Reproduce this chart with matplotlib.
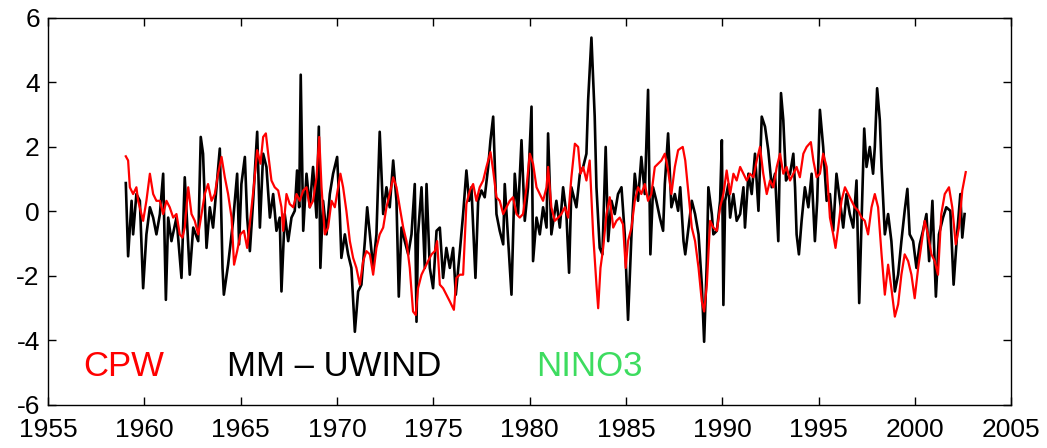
import matplotlib
matplotlib.use('Agg')
import matplotlib.pyplot as plt
import numpy as np

plt.rcParams['font.family'] = ['Liberation Sans', 'DejaVu Sans']
plt.rcParams['axes.unicode_minus'] = False

# MM - UWIND (black)
uwind_years = [
    1959.03, 1959.15, 1959.33, 1959.41, 1959.58, 1959.76, 1959.93, 1960.10, 1960.28, 1960.45,
    1960.62, 1960.80, 1960.97, 1961.11, 1961.23, 1961.40, 1961.66, 1961.92, 1962.09, 1962.27,
    1962.35, 1962.53, 1962.79, 1962.92, 1963.04, 1963.22, 1963.39, 1963.56, 1963.74, 1963.91,
    1964.05, 1964.12, 1964.34, 1964.60, 1964.81, 1964.91, 1965.03, 1965.21, 1965.33, 1965.47,
    1965.64, 1965.85, 1965.99, 1966.16, 1966.33, 1966.51, 1966.68, 1966.85, 1967.02, 1967.11,
    1967.28, 1967.46, 1967.63, 1967.80, 1967.92, 1968.03, 1968.11, 1968.24, 1968.41, 1968.58,
    1968.75, 1968.93, 1969.05, 1969.13, 1969.27, 1969.45, 1969.62, 1969.79, 1970.00, 1970.14,
    1970.22, 1970.40, 1970.57, 1970.74, 1970.92, 1971.09, 1971.26, 1971.44, 1971.56, 1971.70,
    1971.87, 1972.04, 1972.21, 1972.39, 1972.56, 1972.73, 1972.91, 1973.08, 1973.20, 1973.34,
    1973.51, 1973.69, 1973.86, 1974.03, 1974.12, 1974.20, 1974.38, 1974.55, 1974.64, 1974.81,
    1974.98, 1975.16, 1975.33, 1975.50, 1975.67, 1975.85, 1976.02, 1976.16, 1976.37, 1976.54,
    1976.71, 1976.85, 1976.97, 1977.18, 1977.32, 1977.49, 1977.66, 1977.84, 1977.96, 1978.10,
    1978.27, 1978.44, 1978.62, 1978.70, 1978.88, 1979.05, 1979.22, 1979.39, 1979.57, 1979.74,
    1979.91, 1980.09, 1980.17, 1980.35, 1980.52, 1980.69, 1980.87, 1980.95, 1981.12, 1981.38,
    1981.56, 1981.73, 1981.90, 1982.04, 1982.16, 1982.42, 1982.60, 1982.77, 1982.94, 1983.03,
    1983.20, 1983.37, 1983.46, 1983.63, 1983.77, 1983.94, 1984.07, 1984.24, 1984.41, 1984.58,
    1984.76, 1984.93, 1985.10, 1985.28, 1985.45, 1985.62, 1985.79, 1985.97, 1986.14, 1986.26,
    1986.40, 1986.57, 1986.75, 1986.92, 1987.01, 1987.18, 1987.35, 1987.53, 1987.70, 1987.81,
    1987.98, 1988.07, 1988.24, 1988.41, 1988.58, 1988.76, 1988.93, 1989.05, 1989.19, 1989.27,
    1989.45, 1989.53, 1989.71, 1989.88, 1989.97, 1990.05, 1990.14, 1990.31, 1990.40, 1990.57,
    1990.74, 1990.92, 1991.09, 1991.17, 1991.35, 1991.52, 1991.69, 1991.87, 1992.04, 1992.21,
    1992.38, 1992.56, 1992.73, 1992.90, 1993.04, 1993.16, 1993.30, 1993.51, 1993.68, 1993.77,
    1993.85, 1993.97, 1994.11, 1994.28, 1994.46, 1994.63, 1994.80, 1994.92, 1995.06, 1995.23,
    1995.41, 1995.58, 1995.75, 1995.92, 1996.10, 1996.27, 1996.44, 1996.61, 1996.79, 1996.96,
    1997.10, 1997.27, 1997.36, 1997.48, 1997.65, 1997.82, 1997.91, 1998.03, 1998.17, 1998.26,
    1998.43, 1998.60, 1998.77, 1998.95, 1999.12, 1999.29, 1999.46, 1999.60, 1999.72, 1999.90,
    2000.07, 2000.24, 2000.41, 2000.59, 2000.73, 2000.90, 2001.08, 2001.24, 2001.45, 2001.62,
    2001.83, 2002.00, 2002.18, 2002.35, 2002.45, 2002.57,
]
uwind = [
    0.88, -1.39, 0.33, -0.71, 0.54, 0.33, -2.38, -0.71, 0.13, -0.19,
    -0.71, -0.08, 1.17, -2.74, -0.19, -0.92, -0.19, -2.06, 1.06, -1.02,
    -1.96, -0.50, -0.92, 2.31, 1.79, -1.13, 0.13, -0.50, 0.75, 1.95,
    -1.75, -2.58, -1.65, -0.29, 1.17, -1.02, 0.85, 1.69, -0.19, -1.23,
    0.33, 2.47, -0.50, 1.79, 1.38, -0.19, 0.54, -0.60, -0.19, -2.48,
    -0.08, -0.92, -0.19, 0.02, 1.27, 0.13, 4.24, -0.60, 1.17, 0.13,
    1.38, -0.19, 2.63, -1.75, 0.33, -0.71, 0.54, 1.17, 1.69, -0.08,
    -1.44, -0.71, -1.33, -1.75, -3.73, -2.48, -2.27, -0.92, 0.13, -0.71,
    -1.75, -0.71, 2.47, -0.08, 0.75, 0.13, 1.58, 0.33, -2.64, -0.50,
    -0.92, -1.33, -0.71, 0.85, -3.42, -0.71, 0.75, -1.75, 0.85, -1.75,
    -2.38, -0.60, -0.50, -2.06, -1.13, -1.75, -1.13, -2.58, -1.23, -0.08,
    1.27, 0.33, 0.75, -2.06, 0.33, 0.65, 0.44, 1.38, 2.21, 2.94,
    -0.08, -0.60, -1.02, 0.85, -0.92, -2.58, 1.17, -0.08, 2.21, -0.29,
    0.75, 3.25, -1.54, -0.19, -0.71, 0.13, -0.50, 2.42, -0.71, 0.33,
    -0.50, 0.75, -0.08, -1.90, 0.75, 0.13, 1.17, 1.38, 1.79, 3.46,
    5.39, 2.94, 0.75, -1.13, -1.33, 2.00, -0.92, 0.33, -0.08, 0.54,
    0.75, -0.71, -3.36, -0.71, 1.17, 0.33, 1.69, 0.54, 3.77, -1.33,
    0.75, 0.33, -0.19, -0.60, 0.85, 2.42, 0.13, 0.54, 0.02, 0.75,
    -0.92, -1.33, -0.50, 0.33, -0.08, -0.71, -2.27, -4.04, -1.54, 0.75,
    -0.08, -0.71, -0.60, 0.33, 2.21, -2.90, 0.33, 0.85, -0.19, 0.54,
    -0.29, -0.08, 0.75, -0.50, 1.17, 0.54, 1.79, 0.02, 2.94, 2.63,
    1.90, 0.75, 1.17, -0.92, 3.67, 2.83, 0.96, 1.17, 1.79, 0.75,
    -0.71, -1.33, -0.29, 0.75, 0.13, 1.17, -0.92, 0.33, 3.15, 2.00,
    0.33, 0.54, -0.60, 1.17, 0.33, -0.50, 0.54, -0.08, -0.50, 0.96,
    -2.84, 0.75, 2.57, 1.38, 2.00, 1.17, 2.00, 3.82, 2.83, 1.38,
    -0.71, -0.08, -0.92, -2.48, -1.96, -0.92, 0.02, 0.70, -0.71, -0.92,
    -1.75, -1.02, -0.60, -0.08, -1.54, 0.33, -2.64, -0.71, -0.19, 0.13,
    0.02, -2.27, -0.71, 0.54, -0.81, -0.08,
]

# CPW (red)
cpw_years = [
    1959.03, 1959.15, 1959.24, 1959.41, 1959.58, 1959.67, 1959.84, 1959.93, 1960.10, 1960.28,
    1960.45, 1960.62, 1960.80, 1960.97, 1961.14, 1961.31, 1961.49, 1961.66, 1961.83, 1961.97,
    1962.09, 1962.27, 1962.44, 1962.61, 1962.79, 1962.96, 1963.13, 1963.30, 1963.48, 1963.65,
    1963.82, 1964.00, 1964.17, 1964.34, 1964.52, 1964.65, 1964.81, 1964.98, 1965.16, 1965.33,
    1965.50, 1965.67, 1965.85, 1966.02, 1966.16, 1966.30, 1966.42, 1966.59, 1966.76, 1966.94,
    1967.11, 1967.20, 1967.37, 1967.54, 1967.72, 1967.89, 1968.06, 1968.24, 1968.41, 1968.58,
    1968.75, 1968.93, 1969.07, 1969.19, 1969.36, 1969.53, 1969.71, 1969.88, 1970.05, 1970.17,
    1970.31, 1970.48, 1970.66, 1970.83, 1971.00, 1971.18, 1971.35, 1971.52, 1971.70, 1971.87,
    1972.04, 1972.21, 1972.39, 1972.56, 1972.73, 1972.91, 1973.08, 1973.25, 1973.43, 1973.60,
    1973.77, 1973.94, 1974.08, 1974.20, 1974.38, 1974.55, 1974.72, 1974.90, 1975.07, 1975.19,
    1975.33, 1975.50, 1975.67, 1975.85, 1976.06, 1976.19, 1976.37, 1976.54, 1976.71, 1976.89,
    1977.06, 1977.23, 1977.40, 1977.58, 1977.75, 1977.96, 1978.10, 1978.27, 1978.44, 1978.62,
    1978.79, 1978.96, 1979.13, 1979.31, 1979.48, 1979.65, 1979.83, 1980.00, 1980.17, 1980.35,
    1980.52, 1980.69, 1980.87, 1980.95, 1981.12, 1981.30, 1981.47, 1981.64, 1981.82, 1981.99,
    1982.16, 1982.34, 1982.51, 1982.63, 1982.77, 1982.94, 1983.11, 1983.29, 1983.46, 1983.55,
    1983.67, 1983.81, 1983.98, 1984.15, 1984.33, 1984.50, 1984.67, 1984.84, 1984.98, 1985.10,
    1985.28, 1985.45, 1985.62, 1985.79, 1985.97, 1986.14, 1986.31, 1986.49, 1986.66, 1986.83,
    1987.01, 1987.18, 1987.35, 1987.53, 1987.70, 1987.81, 1987.94, 1988.07, 1988.24, 1988.41,
    1988.58, 1988.76, 1988.93, 1989.05, 1989.19, 1989.36, 1989.53, 1989.71, 1989.88, 1990.05,
    1990.22, 1990.40, 1990.57, 1990.74, 1990.92, 1991.09, 1991.26, 1991.43, 1991.61, 1991.78,
    1991.95, 1992.12, 1992.30, 1992.47, 1992.64, 1992.82, 1992.99, 1993.16, 1993.33, 1993.51,
    1993.68, 1993.85, 1994.02, 1994.20, 1994.37, 1994.59, 1994.72, 1994.89, 1995.06, 1995.23,
    1995.41, 1995.58, 1995.75, 1995.87, 1996.01, 1996.18, 1996.36, 1996.53, 1996.70, 1996.87,
    1997.05, 1997.22, 1997.39, 1997.56, 1997.74, 1997.91, 1998.08, 1998.26, 1998.43, 1998.60,
    1998.77, 1998.95, 1999.12, 1999.29, 1999.46, 1999.64, 1999.81, 1999.98, 2000.16, 2000.33,
    2000.50, 2000.67, 2000.85, 2001.02, 2001.19, 2001.36, 2001.54, 2001.76, 2001.93, 2002.11,
    2002.28, 2002.45, 2002.63,
]
cpw = [
    1.71, 1.58, 0.75, 0.54, 0.75, 0.33, -0.08, -0.29, 0.33, 1.17,
    0.54, 0.33, 0.33, -0.08, 0.33, 0.13, -0.19, -0.08, -0.71, -0.81,
    -0.50, 0.75, -0.08, -0.29, -0.71, -0.08, 0.54, 0.85, 0.33, 0.54,
    1.17, 1.69, 1.06, 0.54, -0.19, -1.65, -1.23, -0.71, -0.60, -1.13,
    -0.19, 0.75, 1.90, 1.48, 2.31, 2.42, 1.79, 0.96, 0.75, 0.65,
    0.13, -0.60, 0.54, 0.23, 0.13, 0.54, 0.33, 0.65, 0.75, 0.13,
    0.33, 1.06, 2.31, 0.75, -0.71, -0.50, 0.33, 0.13, 0.75, 1.17,
    0.75, 0.02, -0.92, -1.44, -1.75, -2.27, -1.54, -1.23, -1.33, -1.96,
    -1.13, -0.71, -0.50, 0.13, 0.54, 1.06, 0.75, 0.13, -0.50, -0.92,
    -1.75, -3.10, -3.21, -2.38, -1.96, -1.75, -1.54, -1.33, -1.23, -0.92,
    -2.27, -2.38, -2.58, -2.79, -3.05, -2.06, -1.96, -1.96, 0.23, 0.65,
    0.85, 0.33, 0.75, 0.96, 1.38, 1.84, 1.27, 0.44, 0.33, -0.08,
    0.13, 0.33, 0.44, -0.08, -0.19, -0.08, 0.75, 1.79, 1.48, 0.75,
    0.54, 0.33, 0.75, 1.38, 0.13, -0.29, -0.19, -0.08, 0.13, -0.19,
    1.06, 2.10, 2.00, 1.17, 1.38, 0.96, 1.58, -0.71, -2.27, -3.00,
    -1.75, -1.13, -0.08, 0.44, -0.50, -0.29, -0.19, -0.40, -1.75, -0.92,
    -0.50, 0.33, 0.75, 0.54, 0.85, 0.33, 0.54, 1.38, 1.48, 1.58,
    1.79, 1.27, 0.54, 1.38, 1.90, 1.95, 2.00, 1.58, 0.54, -0.50,
    -0.92, -1.75, -2.79, -3.10, -2.27, -0.29, -0.50, -0.60, 0.13, 0.54,
    1.27, 0.54, 1.17, 0.96, 1.38, 1.17, 0.96, 1.17, 1.06, 1.58,
    2.00, 1.17, 0.54, 0.96, 0.75, 1.38, 1.79, 1.17, 1.38, 0.96,
    1.17, 1.38, 1.06, 1.79, 2.00, 2.15, 1.58, 1.06, 1.17, 1.79,
    1.38, -0.19, -0.71, -1.13, -0.50, 0.33, 0.75, 0.54, 0.33, 0.13,
    0.02, -0.19, -0.29, -0.71, 0.13, 0.54, 0.13, -1.33, -2.58, -1.65,
    -2.38, -3.26, -2.88, -1.96, -1.33, -1.54, -1.96, -2.69, -1.75, -1.02,
    -0.29, -0.71, -1.33, -1.54, -1.96, -0.08, 0.54, 0.75, 0.13, -1.02,
    -0.50, 0.65, 1.22,
]

x_ticks = [1955, 1960, 1965, 1970, 1975, 1980, 1985, 1990, 1995, 2000, 2005]
y_ticks = [-6, -4, -2, 0, 2, 4, 6]

fig = plt.figure(figsize=(10.47, 4.48), dpi=100)
ax = fig.add_axes([0.046, 0.096, 0.920, 0.864])

ax.plot(uwind_years, uwind, color='black', lw=1.9)
ax.plot(cpw_years, cpw, color='#ff0000', lw=1.6)

ax.set_xlim(1955, 2005)
ax.set_ylim(-6, 6)
ax.set_xticks(x_ticks)
ax.set_yticks(y_ticks)
ax.tick_params(direction='in', length=6, width=1, top=True, right=True,
               labelsize=19, colors='black')
ax.tick_params(axis='x', pad=9.5)
ax.tick_params(axis='y', pad=6)
for sp in ax.spines.values():
    sp.set_linewidth(1)

ax.text(1956.8, -5.1, 'CPW', color='#ff0000', fontsize=25, ha='left', va='baseline')
ax.text(1964.3, -5.1, 'MM – UWIND', color='black', fontsize=25, ha='left', va='baseline')
ax.text(1980.35, -5.1, 'NINO3', color='#3ddc5f', fontsize=25, ha='left', va='baseline')

fig.savefig('out.png', dpi=100)
